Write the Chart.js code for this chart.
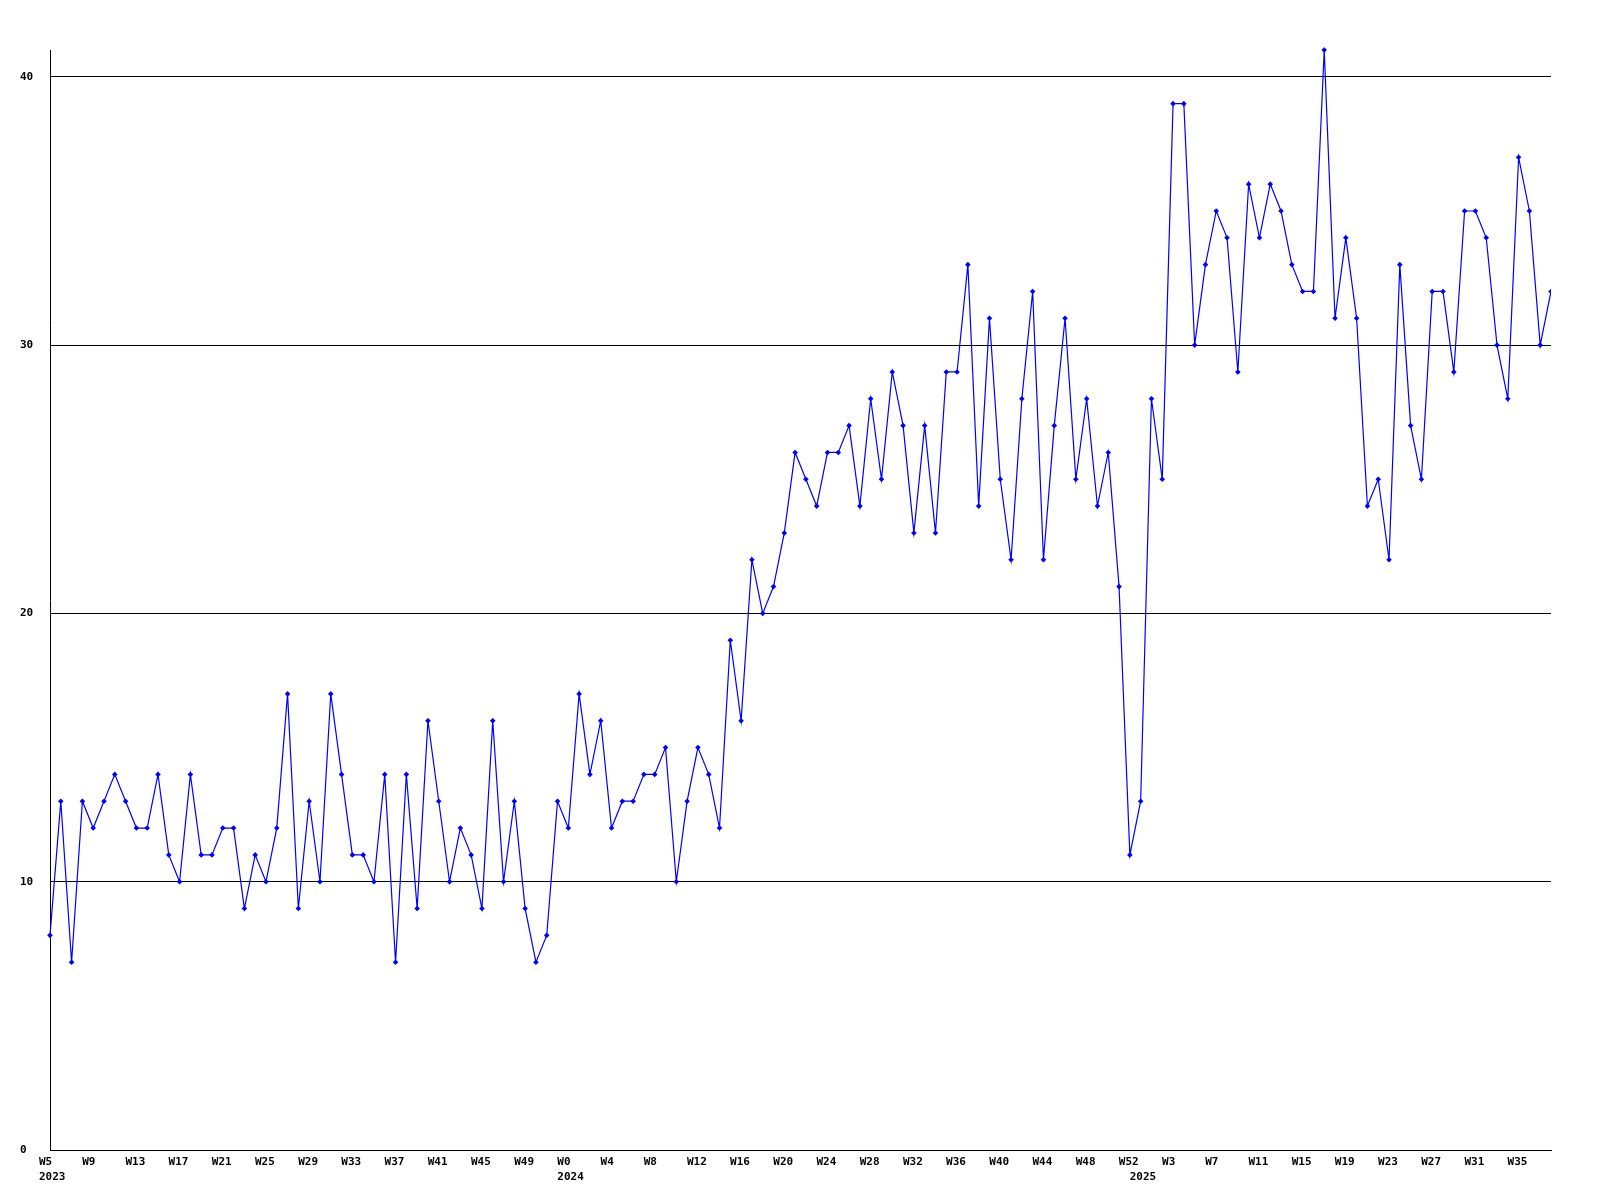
<!DOCTYPE html>
<html>
<head>
<meta charset="utf-8">
<script src="https://cdn.jsdelivr.net/npm/chart.js@4/dist/chart.umd.min.js"></script>
<style>
  html, body { margin: 0; padding: 0; background: #fff; }
  #wrap { width: 1600px; height: 1200px; position: relative; }
</style>
</head>
<body>
<div id="wrap"><canvas id="weekly"></canvas></div>
<script>
// weeks per year, as printed on the axis
const weeks2023 = ["W5","W6","W7","W8","W9","W10","W11","W12","W13","W14","W15","W16","W17","W18","W19","W20",
  "W21","W22","W23","W24","W25","W26","W27","W28","W29","W30","W31","W32","W33","W34","W35","W36",
  "W37","W38","W39","W40","W41","W42","W43","W44","W45","W46","W47","W48","W49","W50","W51","W52"];
const weeks2024 = ["W0","W1","W2","W3","W4","W5","W6","W7","W8","W9","W10","W11","W12","W13","W14","W15","W16",
  "W17","W18","W19","W20","W21","W22","W23","W24","W25","W26","W27","W28","W29","W30","W31","W32",
  "W33","W34","W35","W36","W37","W38","W39","W40","W41","W42","W43","W44","W45","W46","W47","W48",
  "W49","W50","W51","W52"];
const weeks2025 = ["W0","W1","W2","W3","W4","W5","W6","W7","W8","W9","W10","W11","W12","W13","W14","W15","W16",
  "W17","W18","W19","W20","W21","W22","W23","W24","W25","W26","W27","W28","W29","W30","W31","W32",
  "W33","W34","W35","W36","W37","W38"];

// weekly counts
const values2023 = [8,13,7,13,12,13,14,13,12,12,14,11,10,14,11,11,12,12,9,11,10,12,17,9,
  13,10,17,14,11,11,10,14,7,14,9,16,13,10,12,11,9,16,10,13,9,7,8,13];
const values2024 = [12,17,14,16,12,13,13,14,14,15,10,13,15,14,12,19,16,22,20,21,23,26,25,24,
  26,26,27,24,28,25,29,27,23,27,23,29,29,33,24,31,25,22,28,32,22,27,31,25,28,24,26,21,11];
const values2025 = [13,28,25,39,39,30,33,35,34,29,36,34,36,35,33,32,32,41,31,34,31,24,25,22,
  33,27,25,32,32,29,35,35,34,30,28,37,35,30,32];

const yTicks = [0, 10, 20, 30, 40];
const yMax = 41;

const LABEL_EVERY = 4;

// build "year|week" categories so the axis can print the year under the first week of each year
const categories = [
  ...weeks2023.map(w => "2023|" + w),
  ...weeks2024.map(w => "2024|" + w),
  ...weeks2025.map(w => "2025|" + w),
];
const values = [...values2023, ...values2024, ...values2025];

const FONT = { family: "'DejaVu Sans Mono', monospace", size: 11, weight: "bold", lineHeight: "15px" };

function tickLabel(i) {
  const [yr, wk] = categories[i].split("|");
  const prevYr = i > 0 ? categories[i - 1].split("|")[0] : null;
  const top = i % LABEL_EVERY === 0 ? wk : "";
  const bottom = yr !== prevYr ? yr : "";
  return [top, bottom];
}

const ctx = document.getElementById("weekly").getContext("2d");

new Chart(ctx, {
  type: "line",
  data: {
    labels: categories,
    datasets: [{
      data: values,
      borderColor: "#0000ff",
      borderWidth: 1.2,
      tension: 0,
      pointStyle: "rectRot",
      pointRadius: 2.8,
      pointBackgroundColor: "#0000ff",
      pointBorderWidth: 0,
      fill: false,
      // let the top marker poke above the axis like the original, keep the right edge trimmed
      clip: { left: 5, top: false, right: 0, bottom: 5 }
    }]
  },
  options: {
    responsive: true,
    maintainAspectRatio: false,
    devicePixelRatio: 1,
    animation: false,
    layout: { padding: { top: 50, left: 20, right: 49, bottom: 0 } },
    plugins: { legend: { display: false }, tooltip: { enabled: false } },
    scales: {
      x: {
        type: "category",
        grid: { display: false, drawTicks: false },
        border: { display: true, color: "#000", width: 1 },
        afterFit: s => { s.height = 50; },
        ticks: {
          autoSkip: false,
          maxRotation: 0,
          minRotation: 0,
          align: "start",
          labelOffset: -11,
          padding: 5,
          color: "#000",
          font: FONT,
          callback: (v, i) => tickLabel(i)
        }
      },
      y: {
        min: 0,
        max: yMax,
        afterBuildTicks: s => { s.ticks = yTicks.map(v => ({ value: v })); },
        afterFit: s => { s.width = 30; },
        grid: { color: "#000", lineWidth: 1, drawTicks: false },
        border: { display: true, color: "#000", width: 1 },
        ticks: {
          crossAlign: "far",
          padding: 0,
          color: "#000",
          font: FONT
        }
      }
    }
  }
});
</script>
</body>
</html>
